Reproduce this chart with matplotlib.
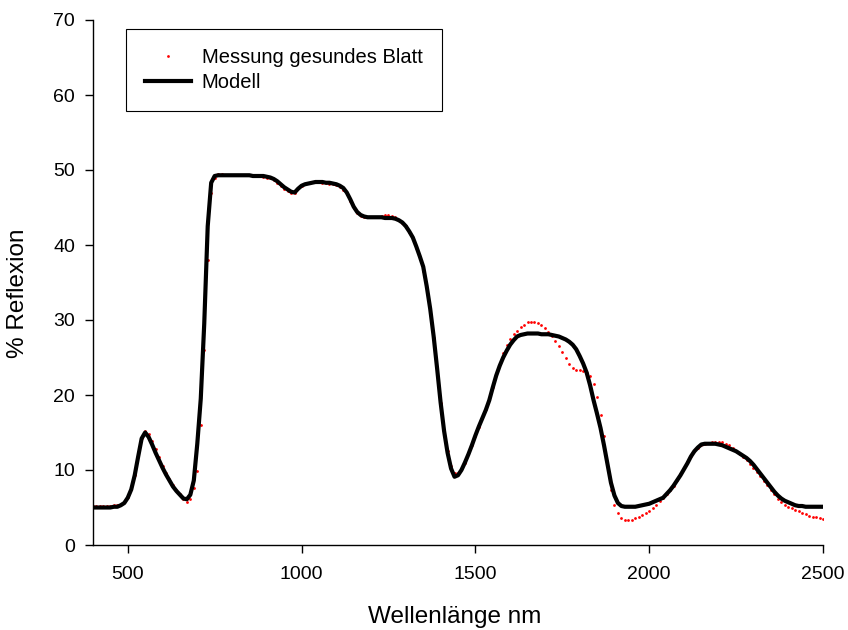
import matplotlib

matplotlib.use("Agg")

import matplotlib.pyplot as plt  # noqa: E402
import numpy as np  # noqa: E402

# wavelength grid of both series, nm (10 nm steps)
wavelength_nm = np.arange(400, 2501, 10)

# model curve, % reflexion, one row per 100 nm
model_pct = [
    5.0, 5.0, 5.0, 5.0, 5.0, 5.0, 5.1, 5.1, 5.3, 5.6,          # 400
    6.3, 7.4, 9.3, 11.8, 14.2, 15.0, 14.4, 13.4, 12.3, 11.3,   # 500
    10.3, 9.4, 8.6, 7.8, 7.2, 6.7, 6.2, 6.1, 6.7, 8.6,         # 600
    13.5, 19.5, 29.5, 42.5, 48.3, 49.2, 49.3, 49.3, 49.3, 49.3,  # 700
    49.3, 49.3, 49.3, 49.3, 49.3, 49.3, 49.2, 49.2, 49.2, 49.2,  # 800
    49.1, 49.0, 48.8, 48.5, 48.1, 47.7, 47.4, 47.1, 47.0, 47.5,  # 900
    47.9, 48.1, 48.2, 48.3, 48.4, 48.4, 48.4, 48.3, 48.3, 48.2,  # 1000
    48.1, 47.9, 47.6, 47.0, 46.1, 45.1, 44.4, 44.0, 43.8, 43.7,  # 1100
    43.7, 43.7, 43.7, 43.7, 43.6, 43.6, 43.6, 43.5, 43.3, 43.0,  # 1200
    42.5, 41.8, 41.0, 39.8, 38.5, 37.1, 34.5, 31.5, 27.8, 23.5,  # 1300
    19.0, 15.2, 12.3, 10.2, 9.1, 9.3, 10.0, 11.0, 12.1, 13.3,    # 1400
    14.6, 15.8, 16.9, 18.0, 19.3, 21.0, 22.6, 23.9, 25.0, 25.9,  # 1500
    26.7, 27.3, 27.8, 28.0, 28.1, 28.2, 28.2, 28.2, 28.2, 28.1,  # 1600
    28.1, 28.1, 28.0, 27.9, 27.8, 27.6, 27.4, 27.1, 26.7, 26.1,  # 1700
    25.2, 24.2, 23.0, 21.3, 19.3, 17.5, 15.6, 13.3, 10.8, 8.3,   # 1800
    6.6, 5.6, 5.2, 5.1, 5.1, 5.1, 5.1, 5.2, 5.3, 5.4,            # 1900
    5.5, 5.7, 5.9, 6.1, 6.3, 6.8, 7.3, 7.9, 8.6, 9.3,            # 2000
    10.1, 10.9, 11.8, 12.5, 13.0, 13.4, 13.5, 13.5, 13.5, 13.5,  # 2100
    13.4, 13.3, 13.1, 12.9, 12.7, 12.5, 12.2, 11.9, 11.6, 11.2,  # 2200
    10.7, 10.1, 9.5, 8.9, 8.3, 7.7, 7.1, 6.6, 6.2, 5.9,          # 2300
    5.7, 5.5, 5.3, 5.2, 5.2, 5.1, 5.1, 5.1, 5.1, 5.1,            # 2400
    5.1,                                                         # 2500
]

# measured healthy leaf, % reflexion
measured_pct = [
    5.2, 5.2, 5.2, 5.2, 5.2, 5.2, 5.3, 5.4, 5.5, 5.7,            # 400
    6.4, 7.5, 9.4, 11.9, 14.3, 15.2, 14.8, 13.9, 12.8, 11.7,     # 500
    10.6, 9.6, 8.8, 8.0, 7.4, 6.8, 6.1, 5.8, 6.2, 7.6,           # 600
    9.9, 16.0, 26.0, 38.0, 47.0, 49.0, 49.5, 49.5, 49.4, 49.4,   # 700
    49.4, 49.4, 49.3, 49.3, 49.3, 49.3, 49.2, 49.2, 49.2, 49.1,  # 800
    49.0, 48.9, 48.7, 48.3, 47.9, 47.5, 47.2, 46.9, 46.9, 47.6,  # 900
    47.9, 48.1, 48.3, 48.4, 48.4, 48.4, 48.3, 48.3, 48.2, 48.1,  # 1000
    48.0, 47.8, 47.4, 46.8, 45.9, 45.0, 44.3, 43.9, 43.7, 43.7,  # 1100
    43.7, 43.7, 43.8, 43.9, 44.0, 44.0, 43.9, 43.7, 43.4, 43.0,  # 1200
    42.5, 41.7, 40.8, 39.6, 38.2, 36.6, 34.2, 31.2, 27.6, 23.3,  # 1300
    19.0, 15.3, 12.5, 10.5, 9.6, 9.6, 10.1, 11.0, 12.1, 13.3,    # 1400
    14.6, 15.8, 17.0, 18.1, 19.4, 21.1, 22.8, 24.3, 25.6, 26.7,  # 1500
    27.5, 28.1, 28.6, 29.1, 29.4, 29.7, 29.8, 29.8, 29.6, 29.3,  # 1600
    28.9, 28.4, 27.9, 27.2, 26.5, 25.8, 25.0, 24.2, 23.6, 23.3,  # 1700
    23.3, 23.2, 23.0, 22.5, 21.5, 19.8, 17.3, 14.5, 10.8, 7.3,   # 1800
    5.4, 4.3, 3.6, 3.4, 3.3, 3.4, 3.6, 3.8, 4.0, 4.3,            # 1900
    4.6, 5.0, 5.4, 5.9, 6.3, 6.8, 7.3, 7.9, 8.7, 9.5,            # 2000
    10.3, 11.1, 11.9, 12.6, 13.0, 13.3, 13.5, 13.6, 13.7, 13.8,  # 2100
    13.8, 13.7, 13.5, 13.3, 13.0, 12.6, 12.2, 11.8, 11.3, 10.8,  # 2200
    10.3, 9.8, 9.2, 8.6, 8.0, 7.4, 6.8, 6.2, 5.8, 5.4,           # 2300
    5.1, 4.9, 4.7, 4.5, 4.3, 4.1, 3.9, 3.8, 3.7, 3.6,            # 2400
    3.5,                                                         # 2500
]

x_ticks = [500, 1000, 1500, 2000, 2500]
y_ticks = [0, 10, 20, 30, 40, 50, 60, 70]

plt.rcParams["font.family"] = ["Liberation Sans", "DejaVu Sans"]

fig = plt.figure(figsize=(8.48, 6.30), dpi=100)
ax = fig.add_axes([93 / 848, 85 / 630, 730 / 848, 525 / 630])

ax.plot(wavelength_nm, measured_pct, ls="none", marker="o", ms=2.0, mew=0,
        color="red", label="Messung gesundes Blatt", zorder=2)
ax.plot(wavelength_nm, model_pct, color="black", lw=3.0,
        solid_joinstyle="round", label="Modell", zorder=3)

ax.set_xlim(400, 2500)
ax.set_ylim(0, 70)
ax.set_xticks(x_ticks)
ax.set_yticks(y_ticks)
ax.spines[["top", "right"]].set_visible(False)
for side in ("left", "bottom"):
    ax.spines[side].set_linewidth(1.0)
ax.tick_params(direction="out", length=6, width=1.0, labelsize=14)
ax.tick_params(axis="x", pad=9)
ax.tick_params(axis="y", pad=7)

ax.set_xlabel("Wellenlänge nm", fontsize=17.5)
ax.set_ylabel("% Reflexion", fontsize=17.5)
ax.xaxis.set_label_coords(0.496, -0.116)
# ylabel anchor is the right-hand edge of the rotated text
ax.yaxis.set_label_coords(-0.088, 0.48)

leg = ax.legend(loc="upper left", bbox_to_anchor=(126 / 848, 1 - 29 / 630),
                bbox_transform=fig.transFigure, borderaxespad=0,
                fontsize=14.5, handlelength=2.3, handletextpad=0.5,
                labelspacing=0.3, borderpad=0.95, markerscale=1.0,
                fancybox=False, framealpha=1, edgecolor="black")
leg.get_frame().set_linewidth(0.8)

fig.savefig("out.png", dpi=100)
plt.close(fig)
